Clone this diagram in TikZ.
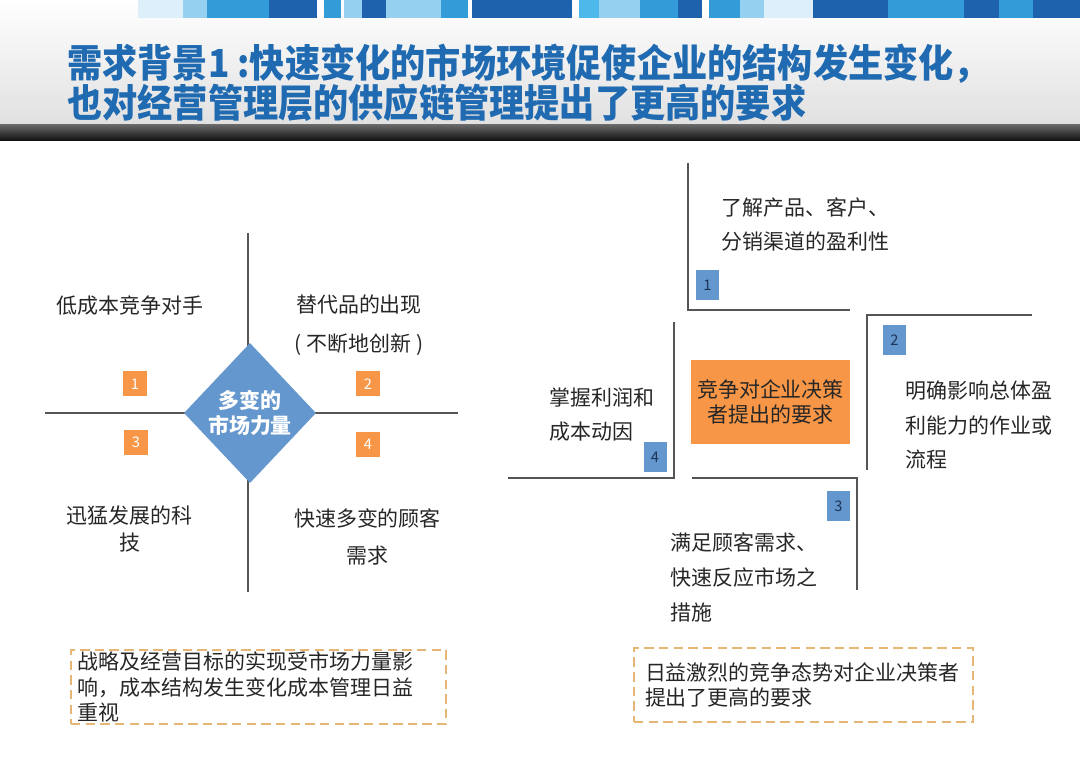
\documentclass[tikz,border=0pt]{standalone}
\usepackage{fontspec}
\setmainfont{Noto Sans CJK SC}
\usetikzlibrary{shapes.geometric}

\definecolor{titleblue}{HTML}{1F6AB0}
\definecolor{textdark}{HTML}{262626}
\definecolor{linegray}{HTML}{555555}
\definecolor{mkorange}{HTML}{F79646}
\definecolor{mkblue}{HTML}{6497CD}
\definecolor{numnavy}{HTML}{1C3458}
\definecolor{notedash}{HTML}{E6B674}
\definecolor{blkA}{HTML}{DDEFFA}
\definecolor{blkB}{HTML}{95D0F1}
\definecolor{blkC}{HTML}{339BD8}
\definecolor{blkD}{HTML}{1E62AD}
\definecolor{blkE}{HTML}{4CB9EA}

\newcommand\ttlfont{\fontsize{30.5}{35}\selectfont\bfseries}
\newcommand\itmfont{\fontsize{17.9}{29.7}\selectfont}
\newcommand\ntfont{\fontsize{17.9}{21.5}\selectfont}
\newcommand\nmfont{\fontsize{12.5}{14}\selectfont}
\newcommand\dmfont{\fontsize{17.9}{21.3}\selectfont\bfseries}

\begin{document}
\begin{tikzpicture}[x=0.3mm,y=-0.3mm,
    divider/.style={draw=linegray,line width=1.1pt},
    ttl/.style={inner sep=0pt,anchor=west,text=titleblue,font=\ttlfont},
    onum/.style={fill=mkorange,text=white,minimum width=7.2mm,minimum height=7.5mm,inner sep=0pt,font=\nmfont},
    bnum/.style={fill=mkblue,text=numnavy,minimum width=6.9mm,minimum height=9mm,inner sep=0pt,font=\nmfont},
    quad/.style={inner sep=0pt,text=textdark,align=center},
    item/.style={inner sep=0pt,text=textdark,align=left,anchor=west,font=\itmfont},
    note/.style={draw=notedash,line width=1.7pt,dash pattern=on 8pt off 4.5pt,inner ysep=0pt,
      align=left,minimum height=22.2mm,text=textdark,font=\ntfont}]
  \useasboundingbox (0,0) rectangle (1080,759);

  % header band
  \shade[top color=white,bottom color=black!12] (0,0) rectangle (1080,125);
  \foreach \a/\b/\c in {138/183/blkA,183/207/blkB,207/269/blkC,269/317/blkD,324/341/blkC,
      344/362/blkB,362/386/blkD,386/441/blkB,441/468/blkC,472/572/blkD,579/599/blkE,
      599/640/blkB,640/678/blkC,678/702/blkD,709/740/blkC,740/764/blkB,764/813/blkA,
      813/888/blkD,888/964/blkC,964/999/blkD,999/1033/blkC,1033/1080/blkD}
    \fill[\c] (\a,0) rectangle (\b,18);
  \shade[top color=black!60,bottom color=black!95] (0,125) rectangle (1080,141);
  \node[ttl] (title1) at (67,64) {\scalebox{0.985}[1.08]{需求背景1 :快速变化的市场环境促使企业的结构发生变化，}};
  \node[ttl] (title2) at (67,103) {\scalebox{0.985}[1.08]{也对经营管理层的供应链管理提出了更高的要求}};

  % left: market forces
  \coordinate (vtop) at (248,233);
  \coordinate (vbot) at (248,592);
  \coordinate (hleft) at (45,413);
  \coordinate (hright) at (458,413);
  \draw[divider] (vtop)--(vbot);
  \draw[divider] (hleft)--(hright);
  \node[diamond,fill=mkblue,minimum width=39.6mm,minimum height=42mm,inner sep=0pt,
    text=white,align=center,font=\dmfont] (market) at (250,413) {多变的\\市场力量};
  \node[onum] (o1) at (135,384) {1};
  \node[onum] (o2) at (368,384) {2};
  \node[onum] (o3) at (136,442) {3};
  \node[onum] (o4) at (368,444) {4};
  \node[quad,font=\fontsize{17.9}{21}\selectfont] (lowcost) at (130,306) {低成本竞争对手};
  \node[quad,font=\fontsize{17.9}{33.3}\selectfont] (substitute) at (359,325.5) {替代品的出现\\( 不断地创新 )};
  \node[quad,font=\fontsize{17.9}{22.2}\selectfont] (techno) at (129.5,529) {迅猛发展的科\\技};
  \node[quad,font=\fontsize{17.9}{31.6}\selectfont] (customer) at (367.5,536.5) {快速多变的顾客\\需求};

  % right: competition demands
  \coordinate (a1) at (688,163);
  \coordinate (b1) at (850,310);
  \coordinate (a2) at (1032,315);
  \coordinate (b2) at (867,470);
  \coordinate (a3) at (692,478);
  \coordinate (b3) at (857,590);
  \coordinate (a4) at (674,322);
  \coordinate (b4) at (508,478);
  \draw[divider] (a1) |- (b1);
  \draw[divider] (a2) -| (b2);
  \draw[divider] (a3) -| (b3);
  \draw[divider] (a4) |- (b4);
  \node[fill=mkorange,minimum width=47.7mm,minimum height=25.2mm,inner sep=0pt,align=center,
    text=textdark,font=\fontsize{17.9}{21.3}\selectfont] (demand) at (770.5,402) {竞争对企业决策\\者提出的要求};
  \node[bnum] (n1) at (707.5,285) {1};
  \node[bnum] (n2) at (894.5,340) {2};
  \node[bnum] (n3) at (838.5,506) {3};
  \node[bnum] (n4) at (655,457) {4};
  \node[item] (profit) at (721,224.5) {了解产品、客户、\\分销渠道的盈利性};
  \node[item] (process) at (905,425) {明确影响总体盈\\利能力的作业或\\流程};
  \node[item] (response) at (670,577.5) {满足顾客需求、\\快速反应市场之\\措施};
  \node[item] (driver) at (549,414.5) {掌握利润和\\成本动因};

  % notes
  \node[note,minimum width=112.5mm,text width=108.3mm,inner xsep=2.1mm] (noteleft) at (258.5,687)
    {战略及经营目标的实现受市场力量影\\响，成本结构发生变化成本管理日益\\重视};
  \node[note,minimum width=101.7mm,text width=95.1mm,inner xsep=3.3mm] (noteright) at (803.5,685)
    {日益激烈的竞争态势对企业决策者\\提出了更高的要求};
\end{tikzpicture}
\end{document}
